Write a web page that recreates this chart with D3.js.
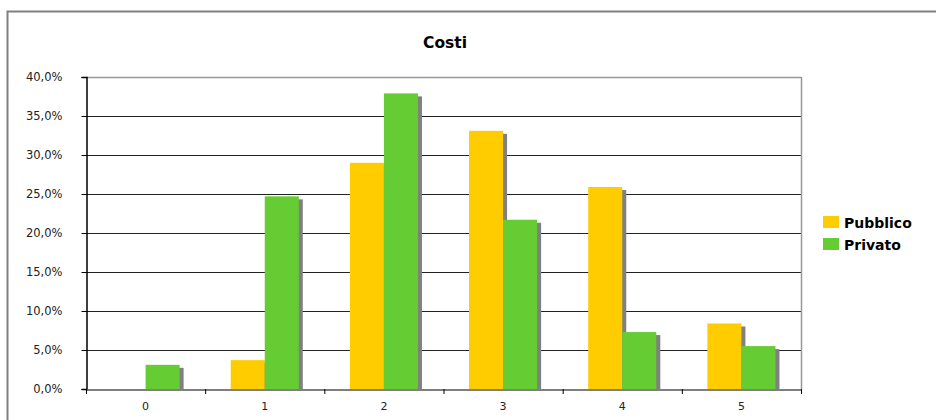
<!DOCTYPE html>
<html><head><meta charset="utf-8">
<script src="https://cdn.jsdelivr.net/npm/d3@7"></script>
<style>body{margin:0;background:#fff}svg{display:block}</style>
</head><body>
<script>
const categories = ["0","1","2","3","4","5"];
const seriesNames = ["Pubblico","Privato"];
const pubblico = [0, 3.7, 29.0, 33.1, 25.9, 8.4];
const privato = [3.1, 24.7, 37.9, 21.7, 7.3, 5.5];
const yTicks = [0,5,10,15,20,25,30,35,40];
const colors = ["#FFCC00","#66CC33"];

const W=936,H=420;
const svg=d3.select("body").append("svg").attr("width",W).attr("height",H);
// outer frame
svg.append("rect").attr("x",7.5).attr("y",11.5).attr("width",940).attr("height",420)
  .attr("fill","none").attr("stroke","#808080").attr("stroke-width",2);

const L=86,R=801,T=77,B=389;
const x=d3.scaleBand().domain(categories).range([L,R]).paddingInner(0).paddingOuter(0);
const y=d3.scaleLinear().domain([0,40]).range([B,T]);
const bw=x.bandwidth()*0.2857;
const xs=d3.scaleBand().domain(seriesNames).range([0,2*bw]);

// title
svg.append("text").attr("x",445).attr("y",48).attr("text-anchor","middle")
  .attr("font-family","DejaVu Sans, Verdana, sans-serif").attr("font-weight","bold").attr("font-size",15.5).text("Costi");

// gridlines
svg.append("g").selectAll("line").data(yTicks.filter(d=>d>0&&d<40)).join("line")
  .attr("x1",L).attr("x2",R).attr("y1",d=>Math.round(y(d))+0.5).attr("y2",d=>Math.round(y(d))+0.5)
  .attr("stroke","#222").attr("stroke-width",1);
// plot border top/right
svg.append("line").attr("x1",L).attr("x2",R+0.5).attr("y1",T+0.5).attr("y2",T+0.5).attr("stroke","#999").attr("stroke-width",1.5);
svg.append("line").attr("x1",R+0.5).attr("x2",R+0.5).attr("y1",T).attr("y2",B).attr("stroke","#999").attr("stroke-width",1.5);

const data=categories.map((c,i)=>({cat:c,vals:[pubblico[i],privato[i]]}));
const g=svg.append("g");
const groups=g.selectAll("g").data(data).join("g")
  .attr("transform",d=>`translate(${x(d.cat)+(x.bandwidth()-2*bw)/2},0)`);
// shadows
groups.selectAll("rect.sh").data(d=>d.vals.map((v,j)=>({v,s:seriesNames[j]})).filter(e=>e.v>0)).join("rect")
  .attr("class","sh").attr("x",e=>xs(e.s)+4).attr("y",e=>y(e.v)+3).attr("width",bw)
  .attr("height",e=>B-y(e.v)-3).attr("fill","#808080");
groups.selectAll("rect.bar").data(d=>d.vals.map((v,j)=>({v,s:seriesNames[j],j})).filter(e=>e.v>0)).join("rect")
  .attr("class","bar").attr("x",e=>xs(e.s)).attr("y",e=>y(e.v)).attr("width",bw)
  .attr("height",e=>B-y(e.v)).attr("fill",e=>colors[e.j]);

// axes
const fmt=d=>d3.format(".1f")(d).replace(".",",")+"%";
const ya=svg.append("g").attr("transform",`translate(${L+0.5},0)`)
  .call(d3.axisLeft(y).tickValues(yTicks).tickFormat(fmt).tickSize(5).tickPadding(19));
ya.select(".domain").attr("stroke","#000").attr("stroke-width",1.5);
ya.selectAll(".tick line").attr("stroke","#000");
ya.selectAll("text").attr("font-family","DejaVu Sans, Verdana, sans-serif").attr("font-size",11.5).attr("fill","#222");

const xa=svg.append("g").attr("transform",`translate(0,${B+0.5})`)
  .call(d3.axisBottom(x).tickSize(0).tickPadding(13));
xa.select(".domain").attr("stroke","#555").attr("stroke-width",1.5);
xa.selectAll("text").attr("font-family","DejaVu Sans, Verdana, sans-serif").attr("font-size",11).attr("fill","#222");
// category boundary ticks
svg.append("g").selectAll("line").data(d3.range(categories.length+1)).join("line")
  .attr("x1",i=>L+i*x.bandwidth()+0.5).attr("x2",i=>L+i*x.bandwidth()+0.5)
  .attr("y1",B).attr("y2",B+5).attr("stroke","#000");

// legend
const lg=svg.append("g").attr("transform","translate(823,216)");
seriesNames.forEach((s,i)=>{
  lg.append("rect").attr("x",0).attr("y",i*22).attr("width",16).attr("height",12).attr("fill",colors[i]);
  lg.append("text").attr("x",21).attr("y",i*22+11.5).attr("font-family","DejaVu Sans, Verdana, sans-serif")
    .attr("font-weight","bold").attr("font-size",14).attr("fill","#000").text(s);
});
</script>
</body></html>
